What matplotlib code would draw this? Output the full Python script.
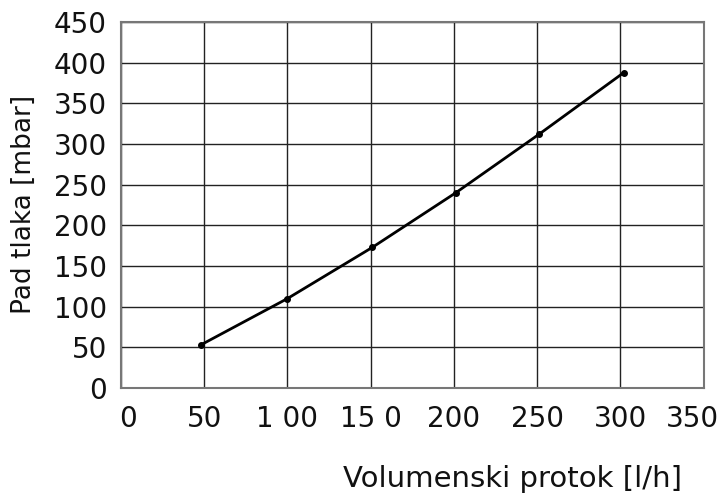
import numpy as np
import matplotlib.pyplot as plt
from matplotlib.transforms import ScaledTranslation

# flow rate [l/h] vs pressure drop [mbar]
flow = [48, 100, 151, 201, 251, 302]
pressure = [53, 110, 173, 240, 312, 388]

x_ticks = [0, 50, 100, 150, 200, 250, 300, 350]
x_labels = ['0', '50', '1 00', '15 0', '200', '250', '300', '350']
y_ticks = [0, 50, 100, 150, 200, 250, 300, 350, 400, 450]

fig = plt.figure(figsize=(7.24, 4.93), dpi=100)
ax = fig.add_axes([0.167, 0.213, 0.805, 0.742])

ax.plot(flow, pressure, color='black', linewidth=2, marker='o', markersize=4)

ax.set_xlim(0, 350)
ax.set_ylim(0, 450)
ax.set_xticks(x_ticks)
ax.set_xticklabels(x_labels)
ax.set_yticks(y_ticks)
ax.grid(True, color='#222222', linewidth=1)
ax.set_axisbelow(True)
for sp in ax.spines.values():
    sp.set_color('#777777')
    sp.set_linewidth(1.5)

ax.tick_params(length=0, labelsize=20, colors='#111111', pad=10)
ax.tick_params(axis='x', pad=12)

# nudge first and last x labels like the original
labs = ax.get_xticklabels()
labs[0].set_transform(labs[0].get_transform() + ScaledTranslation(0.07, 0, fig.dpi_scale_trans))
labs[-1].set_transform(labs[-1].get_transform() + ScaledTranslation(-0.11, 0, fig.dpi_scale_trans))

fig.text(0.942, 0.012, 'Volumenski protok [l/h]', ha='right', va='baseline',
         fontsize=21, color='#111111')
fig.text(0.033, 0.586, 'Pad tlaka [mbar]', ha='center', va='center',
         rotation=90, fontsize=19, color='#111111')

plt.savefig('out.png', dpi=100)
